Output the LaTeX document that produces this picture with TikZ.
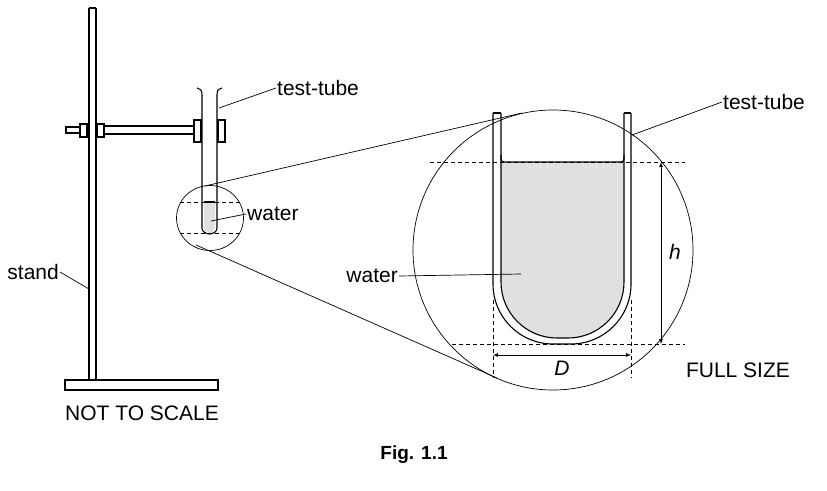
\documentclass[tikz,border=0pt]{standalone}
\usepackage{fontspec}
\usetikzlibrary{shapes.geometric}
\setmainfont{Liberation Sans}
\begin{document}
\begin{tikzpicture}[x=1pt,y=-1pt,
  lbl/.style={font=\fontsize{21}{24}\selectfont,inner sep=1pt},
  ln/.style={line width=0.7pt},
  thk/.style={line width=1.1pt},
  dsh/.style={line width=0.7pt,dash pattern=on 4pt off 3pt}]
\useasboundingbox (0,0) rectangle (827,490);
% stand
\draw[thk,fill=white] (65,380) rectangle (218,390);
\draw[thk] (89,8) -- (89,380) (96,8) -- (96,380) (89,8) -- (96,8);
% clamp
\draw[thk,fill=white] (66,127) rectangle (80,133);
\draw[thk,fill=white] (104,126) rectangle (195,134);
\draw[thk,fill=white] (80,124) rectangle (87,137);
\draw[thk,fill=white] (97,124) rectangle (104,137);
% small tube
\fill[black!12] (204,202) -- (204,228) arc (180:0:5.5) -- (215,202) -- cycle;
\draw[thk] (204,202) -- (215,202);
\draw[thk] (197,88) .. controls (202,90) .. (202,98) -- (202,228) arc (180:0:7.5 and 6) -- (217,98) .. controls (217,90) .. (222,88);
\draw[thk,fill=white] (194,120) rectangle (201,142);
\draw[thk,fill=white] (218,120) rectangle (225,142);
% small ellipse
\node[draw,ln,ellipse,minimum width=67pt,minimum height=65pt,inner sep=0] (se) at (210,218) {};
\draw[dsh] (180,202) -- (240,202) (180,233) -- (240,233);
% big circle
\node[draw,ln,circle,minimum size=280pt,inner sep=0] (bc) at (553,250) {};
\coordinate (t1) at (205,186);
\coordinate (t2) at (522,113);
\coordinate (b1) at (196,245);
\coordinate (b2) at (497,378);
\draw[ln] (t1) -- (t2) (b1) -- (b2);
% big tube
\fill[black!12] (624,162) -- (501,162) [rounded corners=56pt] -- (501,338) -- (624,338) [sharp corners] -- (624,162) -- cycle;
\draw[thk,rounded corners=60pt] (493,113) -- (493,344) -- (631,344) -- (631,113);
\draw[thk,rounded corners=56pt] (501,113) -- (501,338) -- (624,338) -- (624,113);
\draw[thk] (493,113) -- (501,113) (624,113) -- (631,113);
\draw[thk,rounded corners=3pt] (501,155) -- (501,162) -- (624,162) -- (624,155);
% dims
\draw[dsh] (430,162) -- (685,162) (452,344) -- (685,344);
\draw[dsh] (493,300) -- (493,378) (631,300) -- (631,378);
\coordinate (d1) at (493,355); \coordinate (d2) at (631,355);
\draw[ln,<->,>=latex] (d1) -- (d2);
\node[lbl,font=\fontsize{21}{24}\selectfont\itshape] (D) at (562,368) {D};
\coordinate (h1) at (661,162); \coordinate (h2) at (661,344);
\draw[ln,<->,>=latex] (h1) -- (h2);
\node[lbl,font=\fontsize{21}{24}\selectfont\itshape] (h) at (675,252) {h};
% labels
\node[lbl,anchor=west] (tt1) at (276,88) {test-tube};
\coordinate (tt1p) at (219,108);
\draw[ln] (tt1p) -- (tt1.west);
\node[lbl,anchor=west] (w1) at (246,214) {water};
\coordinate (w1p) at (211,221);
\draw[ln] (w1p) -- (w1.west);
\node[lbl,anchor=west] (tt2) at (722,102) {test-tube};
\coordinate (tt2p) at (632,135);
\draw[ln] (tt2p) -- (tt2.west);
\node[lbl,anchor=east] (w2) at (399,276) {water};
\coordinate (w2p) at (521,274);
\draw[ln] (w2p) -- (w2.east);
\node[lbl,anchor=east] (st) at (60,272) {stand};
\coordinate (stp) at (89,289);
\draw[ln] (stp) -- (st.east);
\node[lbl] (nts) at (142,413) {NOT TO SCALE};
\node[lbl] (fs) at (738,370) {FULL SIZE};
\node[lbl,font=\fontsize{19}{22}\selectfont\bfseries] (fig) at (414,455) {Fig. 1.1};
\end{tikzpicture}
\end{document}
